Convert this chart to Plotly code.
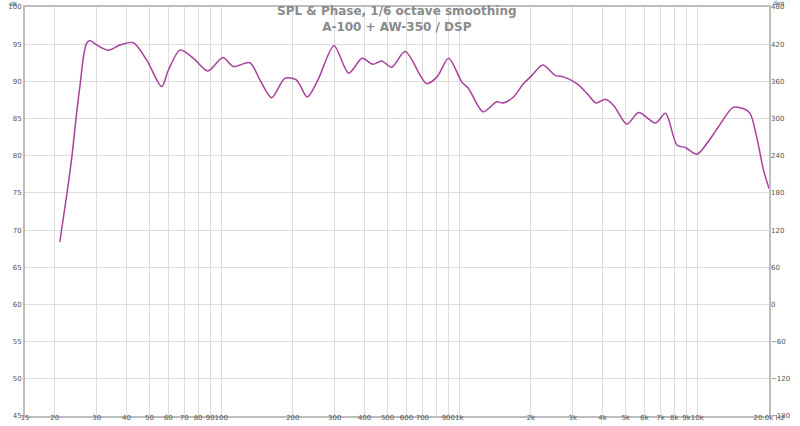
import plotly.graph_objects as go

# SPL curve (Hz, dB)
freq_hz = [21.0, 22.5, 23.6, 24.7, 25.7, 26.4, 27.2, 28.1, 30, 33.6, 37.6, 42.8, 48.7, 56.3,
           60, 67.2, 76.5, 88, 101.7, 112.5, 132, 145.5, 163, 185, 207, 230, 255, 298, 343, 391,
           433, 473, 520, 593, 729, 807, 902, 1026, 1094, 1259, 1437, 1529, 1689, 1863, 2020,
           2243, 2532, 2744, 3120, 3436, 3757, 4097, 4443, 5060, 5670, 6677, 7350, 8220, 8907,
           9965, 10970, 12270, 14140, 15580, 16650, 17760, 18960, 20000]
spl_db = [68.4, 74.9, 79.85, 85.7, 90.2, 93.3, 95.1, 95.5, 94.9, 94.2, 94.9, 95.2, 92.85, 89.3,
          91.5, 94.2, 93.1, 91.4, 93.2, 92.0, 92.5, 90.2, 87.8, 90.4, 90.2, 87.9, 90.2, 94.8, 91.1,
          93.1, 92.3, 92.75, 91.9, 94.0, 89.7, 90.6, 93.1, 89.9, 89.05, 85.9, 87.25, 87.1, 87.9,
          89.7, 90.8, 92.2, 90.8, 90.6, 89.7, 88.4, 87.1, 87.6, 86.8, 84.25, 85.8, 84.4, 85.7,
          81.4, 81.1, 80.2, 81.65, 83.9, 86.5, 86.35, 85.7, 82.5, 78.1, 75.6]

grid_hz = [15, 20, 30, 40, 50, 60, 70, 80, 90, 100, 200, 300, 400, 500, 600, 700, 800, 900,
           1000, 2000, 3000, 4000, 5000, 6000, 7000, 8000, 9000, 10000, 20000]
grid_labels = ["15", "20", "30", "40", "50", "60", "70", "80", "90", "100", "200", "300", "400",
               "500", "600", "700", "", "900", "1k", "2k", "3k", "4k", "5k", "6k", "7k", "8k",
               "9k", "10k", "20.0k Hz"]
db_ticks = list(range(45, 101, 5))
deg_ticks = list(range(-180, 481, 60))

FONT = "DejaVu Sans"
GRID = "#dddddd"
FRAME = "#bdbdbd"
TICK = "#555555"

fig = go.Figure()
fig.add_trace(
    go.Scatter(
        x=freq_hz,
        y=spl_db,
        mode="lines",
        line=dict(color="#a8409c", width=1.5, shape="spline", smoothing=0.8),
        hoverinfo="skip",
        showlegend=False,
    )
)
# invisible trace so the phase axis is drawn
fig.add_trace(go.Scatter(x=[20], y=[0], yaxis="y2", mode="markers",
                         marker=dict(opacity=0), showlegend=False, hoverinfo="skip"))

fig.update_layout(
    width=800,
    height=426,
    margin=dict(l=25, r=31, t=7, b=10),
    plot_bgcolor="white",
    paper_bgcolor="white",
    font=dict(family=FONT, size=7, color=TICK),
    xaxis=dict(
        type="log",
        range=[1.1761, 4.30103],
        tickvals=grid_hz,
        ticktext=grid_labels,
        tickangle=0,
        showgrid=True,
        gridcolor=GRID,
        gridwidth=1,
        showline=True,
        linecolor=FRAME,
        linewidth=2,
        mirror=True,
        ticks="",
        ticklabelstandoff=-6,
        tickfont=dict(size=7, color=TICK),
        zeroline=False,
        automargin=False,
    ),
    yaxis=dict(
        range=[45, 100],
        tickvals=db_ticks,
        showgrid=True,
        gridcolor=GRID,
        showline=True,
        linecolor=FRAME,
        linewidth=2,
        mirror=True,
        ticks="",
        tickfont=dict(size=7, color=TICK),
        zeroline=False,
        automargin=False,
    ),
    yaxis2=dict(
        overlaying="y",
        side="right",
        range=[-180, 480],
        tickvals=deg_ticks,
        showgrid=False,
        showline=False,
        ticks="",
        ticklabelstandoff=1,
        tickfont=dict(size=7, color=TICK),
        zeroline=False,
        automargin=False,
    ),
    annotations=[
        dict(text="<b>SPL & Phase, 1/6 octave smoothing</b><br><b>A-100 + AW-350 / DSP</b>",
             x=0.5, y=1.0, xref="paper", yref="paper", xanchor="center", yanchor="top",
             showarrow=False, font=dict(family=FONT, size=12, color="#8a8a8a"),
             align="center", yshift=5),
        dict(text="dB", x=0, y=1, xref="paper", yref="paper", xanchor="right", yanchor="bottom",
             showarrow=False, font=dict(size=6, color=TICK), xshift=-6, yshift=-2),
        dict(text="deg", x=1, y=1, xref="paper", yref="paper", xanchor="left", yanchor="bottom",
             showarrow=False, font=dict(size=6, color=TICK), xshift=2, yshift=-2),
    ],
)

fig.write_html("out.html", config={"displayModeBar": False},
               post_script="document.body.style.margin='0';")
